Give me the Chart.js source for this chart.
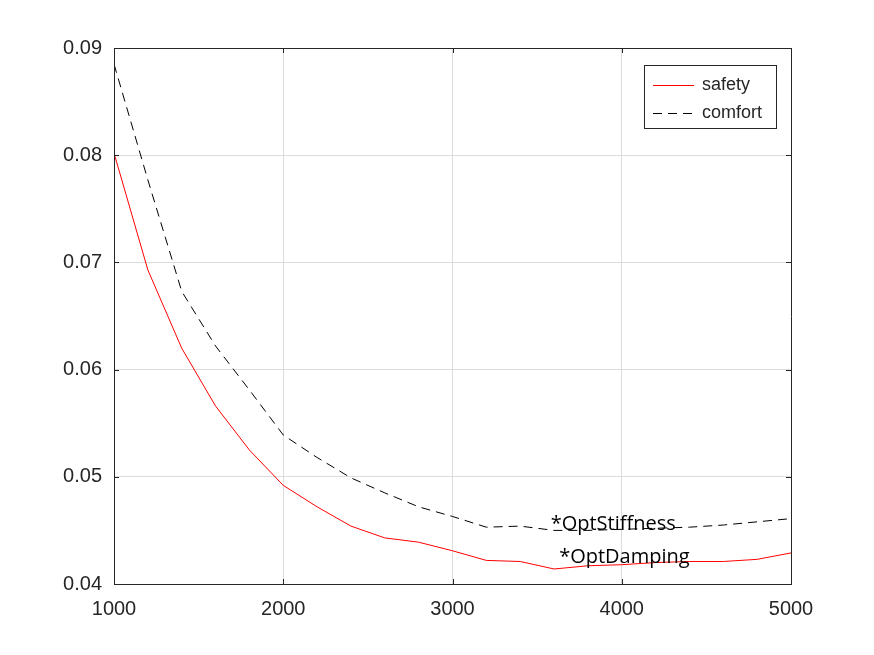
<!DOCTYPE html>
<html>
<head>
<meta charset="utf-8">
<script src="https://cdn.jsdelivr.net/npm/chart.js@4/dist/chart.umd.min.js"></script>
<style>
  body { margin: 0; background: #fff; }
  #wrap { width: 874px; height: 655px; }
</style>
</head>
<body>
<div id="wrap"><canvas id="chart" width="874" height="655"></canvas></div>
<script>
// x 값 (1000 ~ 5000)
const xValues = [1000, 1200, 1400, 1600, 1800, 2000, 2200, 2400, 2600, 2800, 3000,
                 3200, 3400, 3600, 3800, 4000, 4200, 4400, 4600, 4800, 5000];
// safety
const safetyValues = [0.0802, 0.0693, 0.0620, 0.0566, 0.0525, 0.0492, 0.0472, 0.0454, 0.0443, 0.0439, 0.0431,
                      0.0422, 0.0421, 0.0414, 0.0417, 0.0418, 0.0420, 0.0421, 0.0421, 0.0423, 0.0429];
// comfort
const comfortValues = [0.0885, 0.0777, 0.0673, 0.0622, 0.0581, 0.0539, 0.0518, 0.0499, 0.0485, 0.0472, 0.0463,
                       0.0453, 0.0454, 0.0450, 0.0450, 0.0451, 0.0452, 0.0453, 0.0455, 0.0458, 0.0461];
const seriesLabels = ['safety', 'comfort'];
// 텍스트 주석
const noteTexts = ['*OptStiffness', '*OptDamping'];
const noteX = [3580, 3630];
const noteY = [0.0456, 0.04245];

const axisColor = '#262626';
const gridColor = '#dcdcdc';

function toPoints(values){
  return xValues.map(function(x, i){ return {x: x, y: values[i]}; });
}

// 박스 테두리 + 안쪽 눈금
const boxPlugin = {
  id: 'box',
  afterDraw: function(chart){
    const ctx = chart.ctx;
    const a = chart.chartArea;
    const xs = chart.scales.x, ys = chart.scales.y;
    ctx.save();
    ctx.strokeStyle = axisColor;
    ctx.lineWidth = 1;
    ctx.beginPath();
    ctx.rect(a.left + 0.5, a.top + 0.5, a.right - a.left, a.bottom - a.top);
    ctx.stroke();
    ctx.beginPath();
    xs.ticks.forEach(function(t){
      const px = Math.round(xs.getPixelForValue(t.value)) + 0.5;
      ctx.moveTo(px, a.top); ctx.lineTo(px, a.top + 5);
      ctx.moveTo(px, a.bottom); ctx.lineTo(px, a.bottom - 5);
    });
    ys.ticks.forEach(function(t){
      const py = Math.round(ys.getPixelForValue(t.value)) + 0.5;
      ctx.moveTo(a.left, py); ctx.lineTo(a.left + 5, py);
      ctx.moveTo(a.right, py); ctx.lineTo(a.right - 5, py);
    });
    ctx.stroke();
    ctx.restore();
  }
};

// 주석 텍스트
const notePlugin = {
  id: 'notes',
  afterDatasetsDraw: function(chart){
    const ctx = chart.ctx;
    const xs = chart.scales.x, ys = chart.scales.y;
    ctx.save();
    ctx.fillStyle = '#000';
    ctx.font = '20px "Open Sans"';
    ctx.textAlign = 'left';
    ctx.textBaseline = 'middle';
    noteTexts.forEach(function(txt, i){
      ctx.fillText(txt, xs.getPixelForValue(noteX[i]), ys.getPixelForValue(noteY[i]));
    });
    ctx.restore();
  }
};

// 범례 (그래프 안 오른쪽 위)
const legendPlugin = {
  id: 'boxLegend',
  afterDraw: function(chart){
    const ctx = chart.ctx;
    const a = chart.chartArea;
    const w = 132, h = 63;
    const left = a.right - 15 - w, top = a.top + 17;
    ctx.save();
    ctx.fillStyle = '#fff';
    ctx.fillRect(left, top, w, h);
    ctx.strokeStyle = axisColor;
    ctx.lineWidth = 1;
    ctx.strokeRect(left + 0.5, top + 0.5, w, h);
    ctx.font = '18px "Liberation Sans"';
    ctx.textBaseline = 'middle';
    chart.data.datasets.forEach(function(ds, i){
      const y = top + 20 + i * 28 + 0.5;
      ctx.strokeStyle = ds.borderColor;
      ctx.setLineDash(ds.borderDash || []);
      ctx.beginPath();
      ctx.moveTo(left + 9, y); ctx.lineTo(left + 50, y);
      ctx.stroke();
      ctx.setLineDash([]);
      ctx.fillStyle = axisColor;
      ctx.fillText(ds.label, left + 58, y);
    });
    ctx.restore();
  }
};

const chart = new Chart(document.getElementById('chart'), {
  type: 'line',
  data: {
    datasets: [
      { label: seriesLabels[0], data: toPoints(safetyValues), borderColor: '#ff0000',
        borderWidth: 1, pointRadius: 0, fill: false, tension: 0 },
      { label: seriesLabels[1], data: toPoints(comfortValues), borderColor: '#000000',
        borderWidth: 1, borderDash: [9, 6], pointRadius: 0, fill: false, tension: 0 }
    ]
  },
  options: {
    responsive: false,
    animation: false,
    layout: { padding: { top: 48, right: 83, bottom: 0, left: 0 } },
    plugins: {
      legend: { display: false },
      tooltip: { enabled: false }
    },
    scales: {
      x: {
        type: 'linear',
        min: 1000, max: 5000,
        afterFit: function(scale){ scale.height = 71; },
        ticks: { stepSize: 1000, color: axisColor, padding: 13,
                 font: { family: '"Liberation Sans"', size: 20 },
                 callback: function(v){ return String(v); } },
        grid: { color: gridColor, drawTicks: false },
        border: { color: axisColor }
      },
      y: {
        min: 0.04, max: 0.09,
        afterFit: function(scale){ scale.width = 114; },
        ticks: { stepSize: 0.01, color: axisColor, padding: 12,
                 font: { family: '"Liberation Sans"', size: 20 },
                 callback: function(v){ return v.toFixed(2); } },
        grid: { color: gridColor, drawTicks: false },
        border: { color: axisColor }
      }
    }
  },
  plugins: [boxPlugin, notePlugin, legendPlugin]
});
</script>
</body>
</html>
